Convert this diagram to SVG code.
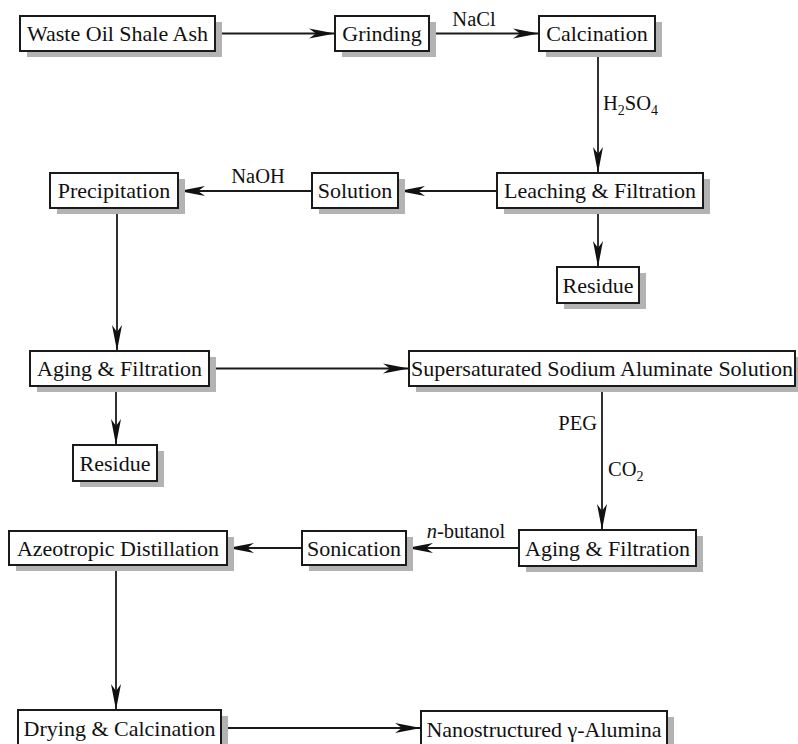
<svg xmlns="http://www.w3.org/2000/svg" width="798" height="744" viewBox="0 0 798 744">
<style>
.sh{fill:#b3b3b3;stroke:none}
.bx{fill:#fff;stroke:#1a1a1a;stroke-width:2}
.t{font-family:"Liberation Serif","Times New Roman",serif;font-size:22px;fill:#111;text-anchor:middle}
.lb{font-family:"Liberation Serif","Times New Roman",serif;font-size:20.5px;fill:#111}
.c{stroke:#1a1a1a;stroke-width:1.8;fill:none;marker-end:url(#ah)}
</style>
<defs>
<marker id="ah" viewBox="-26 -5.5 26 11" refX="0" refY="0" markerWidth="26" markerHeight="11" orient="auto" markerUnits="userSpaceOnUse">
<path d="M0,0 L-26,-5 L-19,0 L-26,5 Z" fill="#111"/>
</marker>
</defs>
<rect width="798" height="744" fill="#fff"/>
<g id="connectors">
<line class="c" x1="216" y1="33.5" x2="335" y2="33.5"/>
<line class="c" x1="430" y1="33.5" x2="539" y2="33.5"/>
<line class="c" x1="598" y1="52" x2="598" y2="173"/>
<line class="c" x1="598" y1="209" x2="598" y2="267"/>
<line class="c" x1="497" y1="191" x2="399" y2="191"/>
<line class="c" x1="312" y1="191" x2="179" y2="191"/>
<line class="c" x1="117" y1="209" x2="117" y2="351"/>
<line class="c" x1="116" y1="387" x2="116" y2="445"/>
<line class="c" x1="210" y1="368.5" x2="409" y2="368.5"/>
<line class="c" x1="602" y1="387" x2="602" y2="530"/>
<line class="c" x1="519" y1="548" x2="407" y2="548"/>
<line class="c" x1="302" y1="548" x2="228" y2="548"/>
<line class="c" x1="116" y1="566" x2="116" y2="710"/>
<line class="c" x1="222" y1="728" x2="421" y2="728"/>
<text class="lb" x="474" y="26" text-anchor="middle">NaCl</text>
<text class="lb" x="603" y="110">H<tspan font-size="14" dy="5">2</tspan><tspan dy="-5">SO</tspan><tspan font-size="14" dy="5">4</tspan></text>
<text class="lb" x="258" y="183" text-anchor="middle">NaOH</text>
<text class="lb" x="597" y="430" text-anchor="end">PEG</text>
<text class="lb" x="608" y="476">CO<tspan font-size="14" dy="5">2</tspan></text>
<text class="lb" x="466" y="538" text-anchor="middle"><tspan font-style="italic">n</tspan>-butanol</text>
</g>
<g id="waste"><rect class="sh" x="27" y="22" width="195" height="35"/><rect class="bx" x="20" y="16" width="195" height="35"/><text class="t" x="117.5" y="41">Waste Oil Shale Ash</text></g>
<g id="grinding"><rect class="sh" x="342" y="22" width="94" height="35"/><rect class="bx" x="335" y="16" width="94" height="35"/><text class="t" x="382" y="41">Grinding</text></g>
<g id="calcination"><rect class="sh" x="546" y="22" width="116" height="35"/><rect class="bx" x="539" y="16" width="116" height="35"/><text class="t" x="597" y="41">Calcination</text></g>
<g id="leaching"><rect class="sh" x="504" y="179" width="206" height="35"/><rect class="bx" x="497" y="173" width="206" height="35"/><text class="t" x="600" y="198">Leaching &amp; Filtration</text></g>
<g id="solution"><rect class="sh" x="319" y="179" width="86" height="35"/><rect class="bx" x="312" y="173" width="86" height="35"/><text class="t" x="355" y="198">Solution</text></g>
<g id="precipitation"><rect class="sh" x="57" y="179" width="128" height="35"/><rect class="bx" x="50" y="173" width="128" height="35"/><text class="t" x="114" y="198">Precipitation</text></g>
<g id="residue1"><rect class="sh" x="564" y="273" width="82" height="36"/><rect class="bx" x="557" y="267" width="82" height="36"/><text class="t" x="598" y="292.5">Residue</text></g>
<g id="aging1"><rect class="sh" x="37" y="357" width="179" height="35"/><rect class="bx" x="30" y="351" width="179" height="35"/><text class="t" x="119.5" y="376">Aging &amp; Filtration</text></g>
<g id="residue2"><rect class="sh" x="80" y="451" width="84" height="36"/><rect class="bx" x="73" y="445" width="84" height="36"/><text class="t" x="115" y="470.5">Residue</text></g>
<g id="supersaturated"><rect class="sh" x="416" y="357" width="386" height="35"/><rect class="bx" x="409" y="351" width="386" height="35"/><text class="t" x="602" y="376">Supersaturated Sodium Aluminate Solution</text></g>
<g id="aging2"><rect class="sh" x="526" y="536" width="177" height="36"/><rect class="bx" x="519" y="530" width="177" height="36"/><text class="t" x="607.5" y="555.5">Aging &amp; Filtration</text></g>
<g id="sonication"><rect class="sh" x="309" y="537" width="104" height="34"/><rect class="bx" x="302" y="531" width="104" height="34"/><text class="t" x="354" y="555.5">Sonication</text></g>
<g id="azeotropic"><rect class="sh" x="16" y="537" width="218" height="34"/><rect class="bx" x="9" y="531" width="218" height="34"/><text class="t" x="118" y="555.5">Azeotropic Distillation</text></g>
<g id="drying"><rect class="sh" x="25" y="716" width="203" height="36"/><rect class="bx" x="18" y="710" width="203" height="36"/><text class="t" x="119.5" y="735.5">Drying &amp; Calcination</text></g>
<g id="nano"><rect class="sh" x="428" y="717" width="246" height="36"/><rect class="bx" x="421" y="711" width="246" height="36"/><text class="t" x="544" y="736.5">Nanostructured γ-Alumina</text></g>
</svg>
